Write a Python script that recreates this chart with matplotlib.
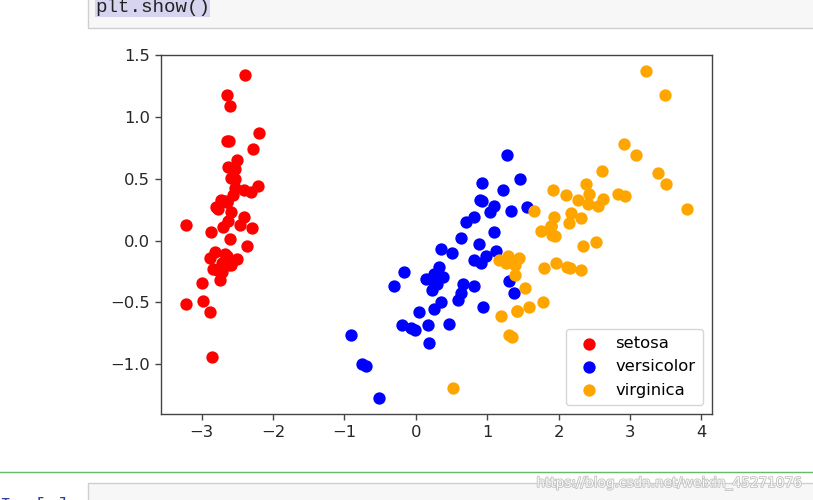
import matplotlib.pyplot as plt
import matplotlib.patheffects as pe
from matplotlib.patches import Rectangle

# PCA projection of the iris data (first two components)
setosa_x = [-2.68, -2.71, -2.89, -2.75, -2.73, -2.28, -2.82, -2.63, -2.89, -2.67,
            -2.51, -2.61, -2.79, -3.22, -2.64, -2.39, -2.62, -2.65, -2.20, -2.59,
            -2.31, -2.54, -3.22, -2.30, -2.36, -2.51, -2.47, -2.56, -2.64, -2.63,
            -2.59, -2.41, -2.65, -2.60, -2.64, -2.87, -2.63, -2.80, -2.98, -2.59,
            -2.77, -2.85, -3.00, -2.41, -2.21, -2.71, -2.54, -2.84, -2.54, -2.70]
setosa_y = [0.32, -0.18, -0.14, -0.32, 0.33, 0.74, -0.09, 0.16, -0.58, -0.11,
            0.65, 0.01, -0.24, -0.51, 1.18, 1.34, 0.81, 0.31, 0.87, 0.51,
            0.39, 0.43, 0.13, 0.10, -0.04, -0.15, 0.13, 0.37, 0.31, -0.20,
            -0.20, 0.41, 0.81, 1.09, -0.12, 0.07, 0.60, 0.27, -0.49, 0.23,
            0.26, -0.94, -0.34, 0.19, 0.44, -0.25, 0.50, -0.23, 0.58, 0.11]

versicolor_x = [1.28, 0.93, 1.46, 0.18, 1.09, 0.64, 1.10, -0.75, 1.04, -0.01,
                -0.51, 0.51, 0.26, 0.98, -0.17, 0.93, 0.66, 0.24, 0.94, 0.05,
                1.12, 0.36, 1.30, 0.92, 0.71, 0.90, 1.33, 1.56, 0.81, -0.31,
                -0.07, -0.19, 0.14, 1.38, 0.59, 0.81, 1.22, 0.82, 0.25, 0.17,
                0.46, 0.89, 0.23, -0.70, 0.36, 0.33, 0.38, 0.64, -0.91, 0.30]
versicolor_y = [0.69, 0.32, 0.50, -0.83, 0.07, -0.42, 0.28, -1.00, 0.23, -0.72,
                -1.27, -0.10, -0.55, -0.12, -0.25, 0.47, -0.35, -0.33, -0.54, -0.58,
                -0.08, -0.07, -0.33, -0.18, 0.15, 0.33, 0.24, 0.27, -0.16, -0.37,
                -0.71, -0.68, -0.31, -0.42, -0.48, 0.19, 0.41, -0.37, -0.27, -0.68,
                -0.67, -0.03, -0.40, -1.01, -0.50, -0.21, -0.29, 0.02, -0.76, -0.35]

virginica_x = [2.53, 1.42, 2.62, 1.97, 2.35, 3.40, 0.52, 2.93, 2.32, 2.92,
               1.66, 1.80, 2.17, 1.35, 1.59, 1.90, 1.95, 3.49, 3.80, 1.30,
               2.43, 1.20, 3.50, 1.39, 2.28, 2.61, 1.26, 1.29, 2.12, 2.39,
               2.84, 3.23, 2.16, 1.44, 1.78, 3.08, 2.14, 1.91, 1.17, 2.11,
               2.31, 1.92, 1.42, 2.56, 2.42, 1.94, 1.53, 1.76, 1.90, 1.39]
virginica_y = [-0.01, -0.57, 0.34, -0.18, -0.04, 0.55, -1.19, 0.36, -0.24, 0.78,
               0.24, -0.22, 0.22, -0.78, -0.54, 0.12, 0.04, 1.18, 0.26, -0.76,
               0.38, -0.61, 0.46, -0.20, 0.33, 0.56, -0.18, -0.12, -0.21, 0.46,
               0.38, 1.37, -0.22, -0.14, -0.50, 0.69, 0.14, 0.05, -0.16, 0.37,
               0.18, 0.41, -0.57, 0.28, 0.30, 0.19, -0.38, 0.08, 0.12, -0.28]

target_names = ["setosa", "versicolor", "virginica"]
colors = ["red", "blue", "orange"]

W, H = 813, 500
fig = plt.figure(figsize=(W / 100, H / 100), dpi=100)

# notebook bits around the output
top_cell = Rectangle((88 / W, 1 - 28 / H), 1, 40 / H, transform=fig.transFigure,
                     facecolor="#f7f7f7", edgecolor="#cfcfcf", lw=1)
fig.patches.append(top_cell)
sel = Rectangle((95 / W, 1 - 17 / H), 115 / W, 20 / H, transform=fig.transFigure,
                facecolor="#d7d4f0", edgecolor="none")
fig.patches.append(sel)
fig.text(95 / W, 1 - 12 / H, "plt.show()", family="Liberation Mono", fontsize=13.8,
         color="#222222", va="baseline", ha="left")

fig.add_artist(plt.Line2D([0, 1], [1 - 472 / H, 1 - 472 / H], transform=fig.transFigure,
                          color="#66bb6a", lw=1))
bottom_cell = Rectangle((88 / W, -0.05), 1, (500 - 483) / H + 0.05, transform=fig.transFigure,
                        facecolor="#f7f7f7", edgecolor="#cfcfcf", lw=1)
fig.patches.append(bottom_cell)
# prompt of the next cell, only its top shows at the bottom edge
fig.text(80 / W, 1 - 497 / H, "In [ ]:", family="Liberation Mono", fontsize=13.8,
         color="#303f9f", va="top", ha="right")
fig.text(803 / W, 1 - 483 / H, "https://blog.csdn.net/weixin_45271076", fontsize=9.8,
         color="white", alpha=0.9, ha="right", va="center",
         path_effects=[pe.withStroke(linewidth=1.2, foreground="#bbbbbb")])

ax = fig.add_axes([161 / W, (H - 414) / H, 551 / W, 359 / H])
for xs, ys, color, name in zip([setosa_x, versicolor_x, virginica_x],
                               [setosa_y, versicolor_y, virginica_y],
                               colors, target_names):
    ax.scatter(xs, ys, color=color, label=name, s=50, linewidths=1.8)

ax.legend(loc="lower right", fontsize=11.8, scatterpoints=1, borderpad=0.45,
          handletextpad=0.6, borderaxespad=0.55)
ax.set_xticks([-3, -2, -1, 0, 1, 2, 3, 4])
ax.set_yticks([-1.0, -0.5, 0.0, 0.5, 1.0, 1.5])
ax.tick_params(labelsize=11.8, length=4.2, width=1, color="#444444", labelcolor="#262626")
for sp in ax.spines.values():
    sp.set_color("#444444")
    sp.set_linewidth(1)

fig.savefig("out.png", dpi=100)
